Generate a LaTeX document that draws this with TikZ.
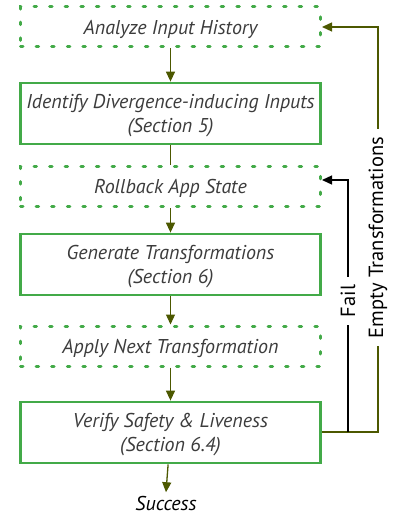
\documentclass[tikz,border=0pt]{standalone}
\usepackage{fontspec}
\setmainfont{PT Sans}
\usetikzlibrary{arrows.meta}
\definecolor{boxgreen}{RGB}{67,170,72}
\definecolor{arrowolive}{RGB}{76,88,0}
\definecolor{textgray}{RGB}{60,60,60}
\begin{document}
\begin{tikzpicture}[x=1pt,y=-1pt,
  stepbox/.style={draw=boxgreen, minimum width=300pt, align=center, text=textgray,
    font=\fontsize{20}{24}\selectfont\itshape, inner sep=0pt, text depth=-1pt},
  solidbox/.style={stepbox, line width=2.8pt, minimum height=61pt},
  dotbox/.style={stepbox, line width=3pt, minimum height=40pt, line cap=round,
    dash pattern=on 2.5pt off 13.1pt},
  flow/.style={draw=arrowolive, line width=1.3pt, -{Triangle[length=10pt,width=9pt]}},
  sidelabel/.style={fill=white, rotate=90, inner xsep=8pt, inner ysep=2pt,
    font=\fontsize{20.5}{22}\selectfont}
]
\useasboundingbox (0,0) rectangle (393,516);
%%% The steps of the loop
\node[dotbox] (hist) at (170.5, 27) {Analyze Input History};
\node[solidbox] (div) at (170.5, 113.5) {Identify Divergence-inducing Inputs\\(Section 5)};
\node[dotbox] (roll) at (170.5, 186.5) {Rollback App State};
\node[solidbox] (gen) at (170.5, 264.5) {Generate Transformations\\(Section 6)};
\node[dotbox] (apply) at (170.5, 346) {Apply Next Transformation};
\node[solidbox] (ver) at (170.5, 432.5) {Verify Safety \& Liveness\\(Section 6.4)};
\node[font=\fontsize{20}{22}\selectfont\itshape] (succ) at (166, 503) {Success};
%Straight flow
\draw[flow] (hist) -- (div);
\draw[draw=arrowolive, line width=1.3pt] (div) -- (roll);
\draw[flow] (roll) -- (gen);
\draw[flow] (gen) -- (apply);
\draw[flow] (apply) -- (ver);
\draw[flow] (ver) -- (succ.north);
%Going back
\coordinate (failj) at (348, 432);
\coordinate (emptyj) at (378, 432);
\draw[flow] (ver.east |- failj) -- (emptyj) -- node[sidelabel, pos=0.48] (emptylbl) {Empty Transformations} (emptyj |- hist.east) -- (hist.east);
\draw[line width=1.3pt, black, -{Triangle[length=10pt,width=9pt]}] (failj) -- node[sidelabel, pos=0.52] (faillbl) {Fail} (348, 180) -- (roll.east |- 0, 180);
\end{tikzpicture}
\end{document}
